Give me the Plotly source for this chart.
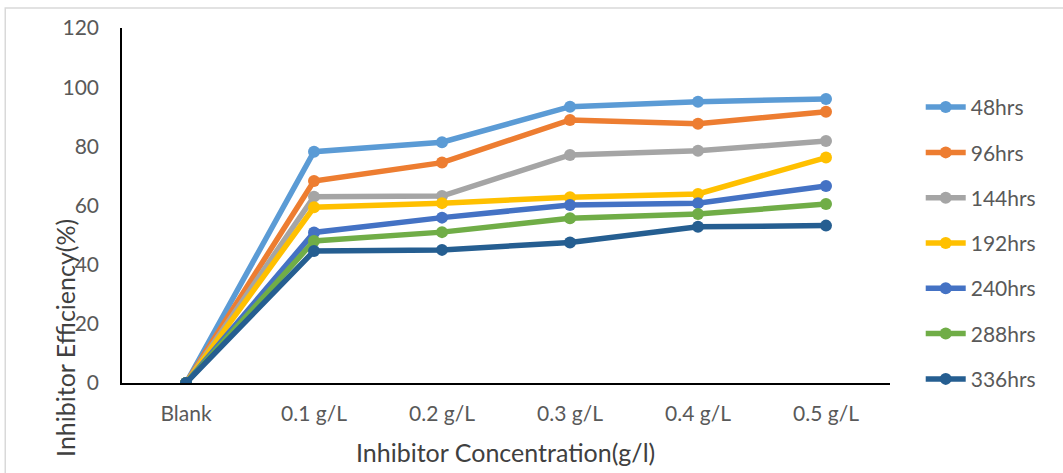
import plotly.graph_objects as go

categories = ["Blank", "0.1 g/L", "0.2 g/L", "0.3 g/L", "0.4 g/L", "0.5 g/L"]
series_names = ["48hrs", "96hrs", "144hrs", "192hrs", "240hrs", "288hrs", "336hrs"]
s48 = [0, 78.2, 81.4, 93.4, 95.1, 96.0]
s96 = [0, 68.3, 74.5, 88.9, 87.6, 91.7]
s144 = [0, 63.0, 63.2, 77.1, 78.5, 81.8]
s192 = [0, 59.4, 60.8, 62.8, 63.9, 76.2]
s240 = [0, 50.9, 55.9, 60.2, 60.8, 66.6]
s288 = [0, 48.0, 51.0, 55.7, 57.1, 60.5]
s336 = [0, 44.6, 45.0, 47.5, 52.8, 53.2]
y_ticks = [0, 20, 40, 60, 80, 100, 120]

series_values = [s48, s96, s144, s192, s240, s288, s336]
colors = ["#5B9BD5", "#ED7D31", "#A5A5A5", "#FFC000", "#4472C4", "#70AD47", "#255E91"]

font_family = "Lato, Open Sans, sans-serif"
gray = "#595959"
title_gray = "#404040"

fig = go.Figure()
for name, vals, col in zip(series_names, series_values, colors):
    fig.add_trace(go.Scatter(
        x=categories, y=vals, name=name, mode="lines+markers",
        line=dict(color=col, width=5.5),
        marker=dict(color=col, size=12),
        legendgroup=name,
    ))

# plot area: x 122..890, y 28..383 in a 1063x473 page
fig.update_layout(
    width=1063, height=473,
    margin=dict(l=122, r=173, t=28, b=90),
    paper_bgcolor="white", plot_bgcolor="white",
    font=dict(family=font_family, color=gray, size=20),
    legend=dict(
        x=1.040, y=0.834, xanchor="left", yanchor="top",
        font=dict(size=21, color=gray, family=font_family),
        tracegroupgap=15, itemwidth=40,
    ),
    xaxis=dict(
        type="category", showgrid=False, showline=True, linecolor="black", linewidth=1.5,
        ticks="", tickfont=dict(size=21, color=gray), ticklabelstandoff=11,
        range=[-0.5, 5.5], zeroline=False,
    ),
    yaxis=dict(
        range=[0, 120], tickvals=y_ticks, showgrid=False, showline=True, linecolor="black",
        linewidth=1.5, ticks="", tickfont=dict(size=21, color=gray), ticklabelstandoff=17,
        zeroline=False,
    ),
    annotations=[
        dict(text="Inhibitor Concentration(g/l)", xref="paper", yref="paper",
             x=0.499, y=-0.194, xanchor="center", yanchor="middle", showarrow=False,
             font=dict(size=25, color=title_gray, family=font_family)),
        dict(text="Inhibitor Efficiency(%)", xref="paper", yref="paper",
             x=-0.0742, y=0.127, xanchor="center", yanchor="middle", showarrow=False,
             textangle=-90, font=dict(size=25, color=title_gray, family=font_family)),
    ],
    shapes=[dict(
        type="rect", xref="paper", yref="paper",
        x0=-0.152, x1=1.5, y0=-0.5, y1=1.056,
        line=dict(color="#D9D9D9", width=1.5), fillcolor="rgba(0,0,0,0)", layer="below",
    )],
)

fig.write_html(
    "out.html",
    config={"displayModeBar": False},
    post_script="document.body.style.margin='0px'; document.body.style.overflow='hidden';",
)
